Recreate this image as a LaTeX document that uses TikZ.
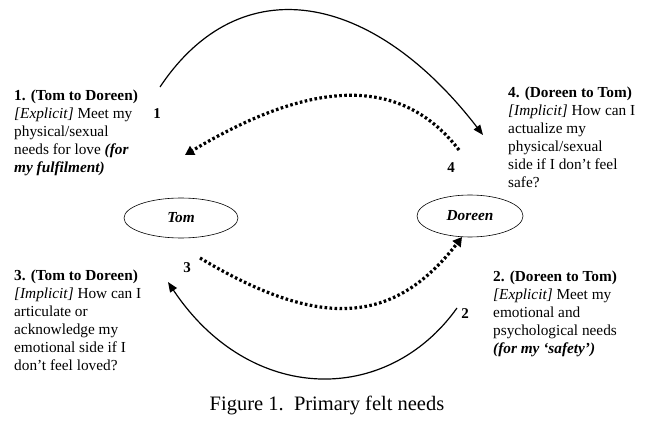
\documentclass[tikz,border=0pt]{standalone}
\usepackage{fontspec}
\setmainfont{Liberation Serif}
\usetikzlibrary{arrows.meta,shapes.geometric}
\begin{document}
\begin{tikzpicture}[x=1pt,y=-1pt,
  txt/.style={font=\fontsize{15.3}{18.1}\selectfont, align=left, inner sep=0pt, anchor=north west},
  num/.style={font=\fontsize{15}{16}\selectfont\bfseries, inner sep=0pt},
  person/.style={ellipse, draw, line width=0.6pt, inner sep=0pt, font=\fontsize{15.3}{16}\selectfont\bfseries\itshape},
  solidarc/.style={line width=1.2pt, -{Triangle[length=10pt,width=8pt]}},
  dotarc/.style={line width=3.2pt, dash pattern=on 2.6pt off 2.4pt, -{Triangle[length=9pt,width=10pt]}}
]
\useasboundingbox (0,0) rectangle (652,435);
\node[person, minimum width=114pt, minimum height=40pt] (tom) at (181,218) {Tom};
\node[person, minimum width=106pt, minimum height=42pt] (doreen) at (470,216) {Doreen};

\node[txt] (t1) at (14,89.5) {\textbf{1. (Tom to Doreen)}\\\textit{[Explicit]} Meet my\\physical/sexual\\needs for love \textbf{\textit{(for}}\\\textbf{\textit{my fulfilment)}}};
\node[txt] (t4) at (508,86.5) {\textbf{4. (Doreen to Tom)}\\\textit{[Implicit]} How can I\\actualize my\\physical/sexual\\side if I don’t feel\\safe?};
\node[txt] (t3) at (14,269.5) {\textbf{3. (Tom to Doreen)}\\\textit{[Implicit]} How can I\\articulate or\\acknowledge my\\emotional side if I\\don’t feel loved?};
\node[txt] (t2) at (493,270.5) {\textbf{2. (Doreen to Tom)}\\\textit{[Explicit]} Meet my\\emotional and\\psychological needs\\\textbf{\textit{(for my ‘safety’)}}};

\node[num] (n1) at (157,114) {1};
\node[num] (n4) at (451,168) {4};
\node[num] (n3) at (187,268) {3};
\node[num] (n2) at (465,314) {2};

\coordinate (a1s) at (160,87);
\coordinate (a1e) at (483,135);
\coordinate (a4s) at (459,150);
\coordinate (a4e) at (185,155);
\coordinate (a3s) at (200,258);
\coordinate (a3e) at (462,237);
\coordinate (a2s) at (457,308);
\coordinate (a2e) at (168,282);

\draw[solidarc] (a1s) .. controls (240,-33) and (372,-9) .. (a1e);
\draw[dotarc] (a4s) .. controls (399,72) and (307,82) .. (a4e);
\draw[dotarc] (a3s) .. controls (320,330) and (394,325) .. (a3e);
\draw[solidarc] (a2s) .. controls (387,406) and (250,405) .. (a2e);

\node[font=\fontsize{20.5}{24}\selectfont, inner sep=0pt] (cap) at (327,405) {Figure 1.\ \ Primary felt needs};
\end{tikzpicture}
\end{document}
